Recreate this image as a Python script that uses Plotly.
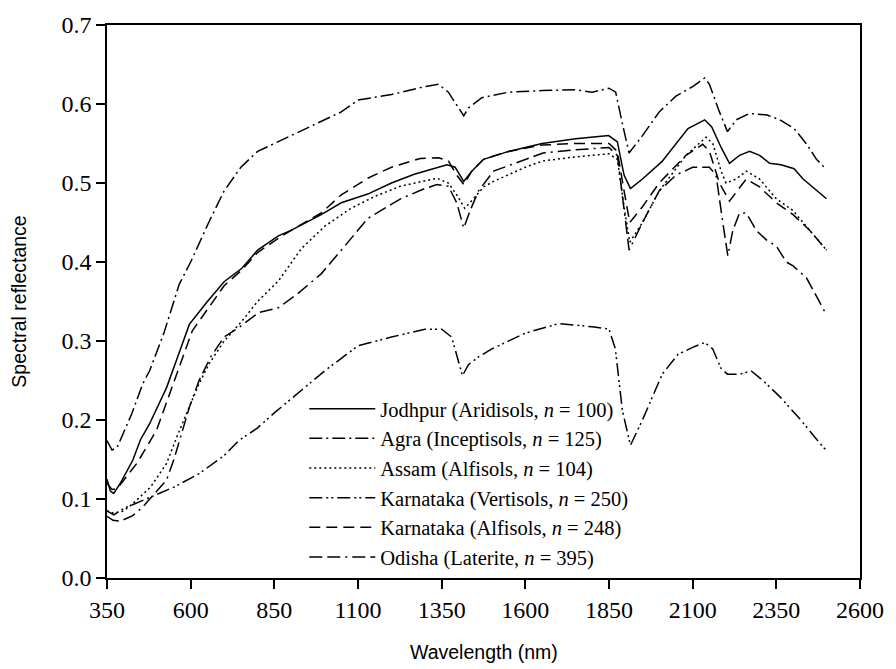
import plotly.graph_objects as go

# ---------------- data ----------------
jod_wl = [350, 360, 370, 390, 427, 450, 477, 528, 557, 596, 650, 700, 753, 800, 862, 900, 990, 1050, 1129, 1200, 1268, 1366, 1390, 1416, 1440, 1475, 1550, 1650, 1750, 1849, 1875, 1895, 1914, 1950, 2008, 2050, 2086, 2136, 2157, 2185, 2210, 2240, 2270, 2300, 2330, 2364, 2403, 2430, 2462, 2500]
jod_r = [0.125, 0.110, 0.107, 0.120, 0.149, 0.175, 0.195, 0.241, 0.275, 0.321, 0.350, 0.375, 0.392, 0.415, 0.433, 0.440, 0.460, 0.475, 0.486, 0.500, 0.511, 0.523, 0.520, 0.502, 0.515, 0.530, 0.540, 0.550, 0.556, 0.560, 0.552, 0.510, 0.493, 0.505, 0.527, 0.550, 0.569, 0.580, 0.571, 0.545, 0.525, 0.535, 0.540, 0.535, 0.525, 0.523, 0.518, 0.505, 0.493, 0.480]

agra_wl = [350, 365, 380, 424, 457, 477, 520, 566, 600, 655, 700, 750, 800, 850, 950, 1000, 1050, 1100, 1200, 1300, 1340, 1370, 1400, 1416, 1430, 1470, 1550, 1650, 1750, 1800, 1850, 1870, 1890, 1910, 1950, 2000, 2050, 2100, 2136, 2150, 2180, 2204, 2230, 2270, 2323, 2360, 2403, 2441, 2470, 2500]
agra_r = [0.174, 0.162, 0.165, 0.208, 0.246, 0.262, 0.310, 0.372, 0.400, 0.451, 0.490, 0.520, 0.540, 0.550, 0.570, 0.580, 0.590, 0.605, 0.612, 0.622, 0.625, 0.615, 0.595, 0.585, 0.595, 0.608, 0.615, 0.617, 0.618, 0.615, 0.620, 0.615, 0.575, 0.538, 0.560, 0.590, 0.610, 0.622, 0.633, 0.625, 0.590, 0.565, 0.580, 0.588, 0.586, 0.580, 0.569, 0.549, 0.530, 0.517]

assam_wl = [350, 370, 400, 427, 480, 528, 560, 587, 625, 655, 700, 753, 800, 862, 931, 1000, 1079, 1150, 1227, 1336, 1370, 1395, 1419, 1445, 1475, 1505, 1600, 1653, 1750, 1849, 1875, 1895, 1912, 1950, 2000, 2080, 2140, 2160, 2185, 2200, 2230, 2260, 2300, 2350, 2400, 2450, 2500]
assam_r = [0.085, 0.082, 0.085, 0.094, 0.115, 0.145, 0.180, 0.208, 0.246, 0.271, 0.300, 0.325, 0.350, 0.376, 0.417, 0.445, 0.468, 0.483, 0.496, 0.506, 0.500, 0.485, 0.468, 0.480, 0.495, 0.502, 0.520, 0.528, 0.533, 0.537, 0.530, 0.470, 0.425, 0.450, 0.490, 0.535, 0.558, 0.550, 0.515, 0.500, 0.505, 0.515, 0.505, 0.480, 0.465, 0.440, 0.415]

kv_wl = [350, 370, 400, 477, 550, 625, 700, 744, 800, 850, 950, 1000, 1100, 1200, 1300, 1350, 1380, 1400, 1412, 1430, 1460, 1500, 1600, 1700, 1800, 1850, 1869, 1890, 1914, 1950, 2009, 2056, 2100, 2136, 2160, 2185, 2204, 2240, 2275, 2310, 2364, 2423, 2491, 2500]
kv_r = [0.085, 0.080, 0.088, 0.102, 0.115, 0.132, 0.155, 0.174, 0.190, 0.209, 0.245, 0.262, 0.294, 0.305, 0.315, 0.315, 0.305, 0.275, 0.256, 0.270, 0.280, 0.290, 0.310, 0.322, 0.318, 0.315, 0.290, 0.212, 0.168, 0.200, 0.258, 0.283, 0.292, 0.298, 0.290, 0.265, 0.258, 0.258, 0.262, 0.250, 0.228, 0.200, 0.165, 0.162]

ka_wl = [350, 365, 380, 439, 498, 543, 566, 605, 650, 700, 753, 800, 862, 900, 990, 1050, 1129, 1200, 1286, 1340, 1370, 1395, 1416, 1440, 1475, 1550, 1650, 1750, 1850, 1875, 1895, 1912, 1950, 2000, 2080, 2130, 2150, 2180, 2210, 2260, 2300, 2350, 2400, 2450, 2500]
ka_r = [0.120, 0.112, 0.113, 0.145, 0.187, 0.241, 0.266, 0.313, 0.340, 0.370, 0.390, 0.412, 0.430, 0.440, 0.462, 0.485, 0.506, 0.520, 0.531, 0.532, 0.528, 0.510, 0.498, 0.515, 0.530, 0.540, 0.548, 0.550, 0.550, 0.540, 0.490, 0.450, 0.470, 0.500, 0.535, 0.549, 0.540, 0.500, 0.477, 0.505, 0.495, 0.475, 0.460, 0.440, 0.415]

odi_wl = [350, 368, 390, 427, 457, 500, 528, 550, 566, 596, 625, 660, 700, 744, 803, 862, 920, 990, 1060, 1129, 1227, 1300, 1336, 1370, 1395, 1416, 1435, 1460, 1505, 1600, 1653, 1750, 1850, 1875, 1895, 1910, 1950, 2000, 2050, 2100, 2150, 2170, 2190, 2205, 2220, 2240, 2260, 2290, 2320, 2350, 2380, 2400, 2440, 2500]
odi_r = [0.078, 0.073, 0.072, 0.079, 0.090, 0.110, 0.124, 0.150, 0.174, 0.216, 0.250, 0.280, 0.305, 0.317, 0.336, 0.342, 0.360, 0.385, 0.420, 0.455, 0.480, 0.493, 0.498, 0.496, 0.475, 0.443, 0.465, 0.490, 0.515, 0.530, 0.538, 0.542, 0.545, 0.535, 0.470, 0.415, 0.450, 0.490, 0.510, 0.520, 0.520, 0.510, 0.450, 0.408, 0.440, 0.462, 0.462, 0.440, 0.428, 0.420, 0.400, 0.395, 0.380, 0.333]

names = [
    "Jodhpur (Aridisols, <i>n</i> = 100)",
    "Agra (Inceptisols, <i>n</i> = 125)",
    "Assam (Alfisols, <i>n</i> = 104)",
    "Karnataka (Vertisols, <i>n</i> = 250)",
    "Karnataka (Alfisols, <i>n</i> = 248)",
    "Odisha (Laterite, <i>n</i> = 395)",
]

x_ticks = [350, 600, 850, 1100, 1350, 1600, 1850, 2100, 2350, 2600]
y_ticks = [0.0, 0.1, 0.2, 0.3, 0.4, 0.5, 0.6, 0.7]

series = [(jod_wl, jod_r), (agra_wl, agra_r), (assam_wl, assam_r),
          (kv_wl, kv_r), (ka_wl, ka_r), (odi_wl, odi_r)]
dashes = [
    "solid",
    "13px,4px,2px,4px",
    "2px,3px",
    "13px,4px,2px,3px,2px,4px",
    "11px,6px",
    "13px,5px,13px,5px,2px,5px",
]

fig = go.Figure()
for (wl, r), name, d in zip(series, names, dashes):
    fig.add_trace(go.Scatter(x=wl, y=r, mode="lines", name=name,
                             line=dict(color="black", width=1.5, dash=d)))

serif = "Liberation Serif, Times New Roman, serif"
sans = "Liberation Sans, Arial, sans-serif"

fig.update_layout(
    width=896, height=669,
    margin=dict(l=107, r=29, t=23, b=91),
    paper_bgcolor="white", plot_bgcolor="white",
    showlegend=True,
    legend=dict(x=0.262, y=0.342, xanchor="left", yanchor="top",
                font=dict(family=serif, size=20.5, color="black"),
                bgcolor="rgba(0,0,0,0)", itemwidth=66,
                tracegroupgap=0),
    xaxis=dict(range=[350, 2600], tickvals=x_ticks,
               ticktext=[str(v) for v in x_ticks],
               showline=True, linecolor="black", linewidth=1.5, mirror=True,
               ticks="outside", ticklen=9, tickwidth=1.5, tickcolor="black",
               showgrid=False, zeroline=False,
               tickfont=dict(family=serif, size=24, color="black")),
    yaxis=dict(range=[0, 0.7], tickvals=y_ticks,
               ticktext=["%.1f" % v for v in y_ticks],
               showline=True, linecolor="black", linewidth=1.5, mirror=True,
               ticks="outside", ticklen=9, tickwidth=1.5, tickcolor="black",
               showgrid=False, zeroline=False,
               tickfont=dict(family=serif, size=24, color="black")),
    annotations=[
        dict(text="Wavelength (nm)", xref="paper", yref="paper",
             x=0.5, y=-0.134, xanchor="center", yanchor="middle",
             showarrow=False, font=dict(family=sans, size=19.5, color="black")),
        dict(text="Spectral reflectance", xref="paper", yref="paper",
             x=-0.118, y=0.5, xanchor="center", yanchor="middle", textangle=-90,
             showarrow=False, font=dict(family=sans, size=19.5, color="black")),
    ],
)

fig.write_html("out.html", config={"displayModeBar": False},
               post_script="document.body.style.margin='0px';document.body.style.overflow='hidden';")
